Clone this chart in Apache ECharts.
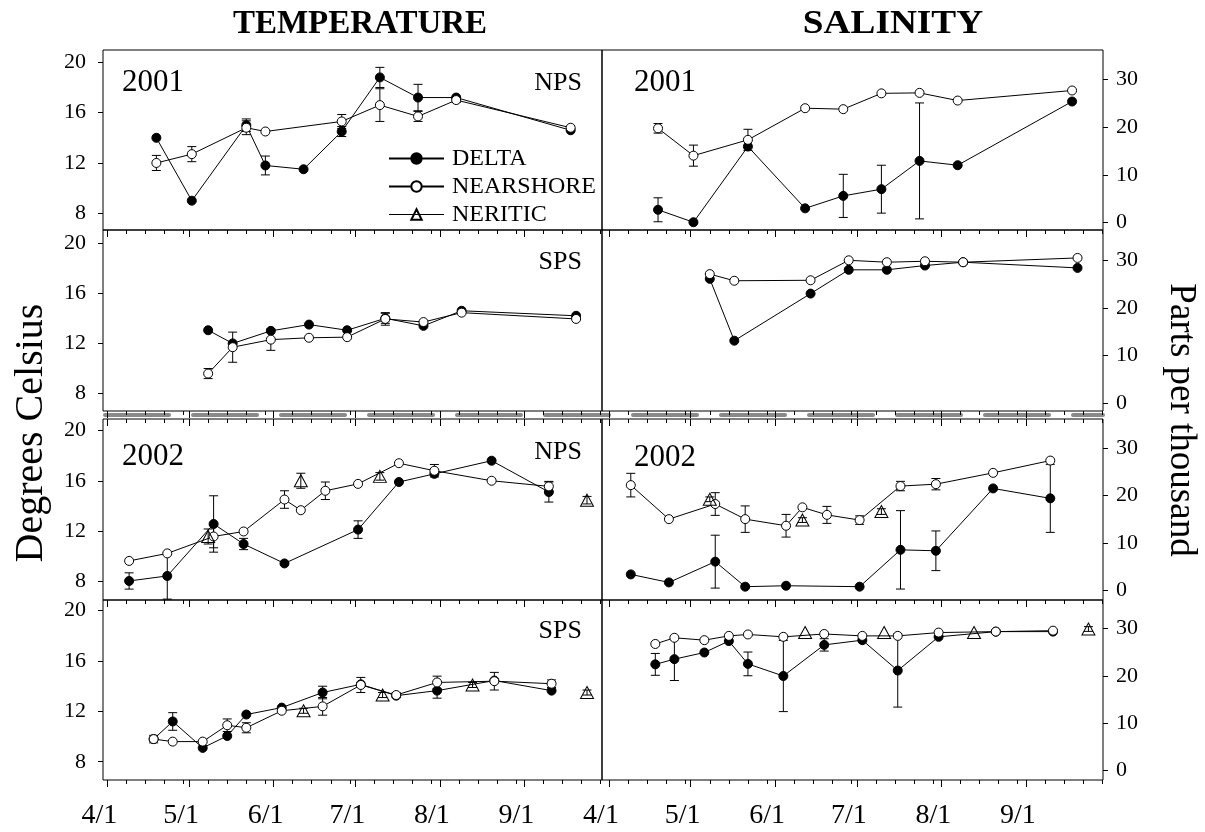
<!DOCTYPE html>
<html><head><meta charset="utf-8">
<script src="https://cdn.jsdelivr.net/npm/echarts@6/dist/echarts.min.js"></script>
<style>html,body{margin:0;padding:0;background:#fff}#c{width:1205px;height:832px}</style>
</head><body><div id="c"></div>
<script>
// ---------- tick labels ----------
const monthTickLabels = ['4/1','5/1','6/1','7/1','8/1','9/1'];
const weekTickDates = ['4/8','4/15','4/22','4/29','5/8','5/15','5/22','5/29','6/8','6/15','6/22','6/29',
  '7/8','7/15','7/22','7/29','8/8','8/15','8/22','8/29','9/8','9/15','9/22','9/29'];
const tempTicks = [8,12,16,20];
const salTicks = [0,10,20,30];
const seriesNames = ['DELTA','NEARSHORE','NERITIC'];

// ---------- 2001 NPS ----------
const t01nDeltaDates = ['4/19','5/2','5/22','5/29','6/12','6/26','7/10','7/24','8/7','9/18'];
const t01nDelta      = [14.0, 9.0, 15.0, 11.8, 11.5, 14.5, 18.8, 17.2, 17.2, 14.6];
const t01nDeltaErr   = [0, 0, 0.5, 0.75, 0, 0.4, 0.8, 1.05, 0.1, 0];
const t01nNearDates  = ['4/19','5/2','5/22','5/29','6/26','7/10','7/24','8/7','9/18'];
const t01nNear       = [12.0, 12.7, 14.8, 14.5, 15.3, 16.6, 15.7, 17.0, 14.8];
const t01nNearErr    = [0.6, 0.6, 0.55, 0, 0.55, 1.3, 0.4, 0.2, 0];

const s01nDates      = ['4/19','5/2','5/22','6/12','6/26','7/10','7/24','8/7','9/18'];
const s01nNear       = [19.7, 14.0, 17.3, 23.9, 23.7, 27.0, 27.1, 25.5, 27.6];
const s01nNearErr    = [1.0, 2.2, 2.2, 0, 0, 0, 0, 0, 0];
const s01nDelta      = [2.7, 0.1, 15.9, 3.0, 5.6, 7.0, 12.9, 12.0, 25.3];
const s01nDeltaErr   = [2.5, 0, 0, 0, 4.5, 5.0, 12.1, 0, 0];

// ---------- 2001 SPS ----------
const t01sDates      = ['5/8','5/17','5/31','6/14','6/28','7/12','7/26','8/9','9/20'];
const t01sDelta      = [13.05, 12.0, 13.0, 13.5, 13.05, 14.0, 13.4, 14.6, 14.2];
const t01sDeltaErr   = [0, 0, 0, 0, 0, 0.4, 0, 0, 0];
const t01sNear       = [9.6, 11.7, 12.3, 12.45, 12.5, 13.95, 13.7, 14.45, 13.95];
const t01sNearErr    = [0.4, 1.2, 0.85, 0, 0, 0.5, 0, 0, 0];

const s01sDates      = ['5/8','5/17','6/14','6/28','7/12','7/26','8/9','9/20'];
const s01sNear       = [27.1, 25.7, 25.8, 30.0, 29.6, 29.8, 29.6, 30.5];
const s01sDelta      = [26.1, 13.1, 23.0, 28.0, 28.0, 28.9, 29.6, 28.4];

// ---------- 2002 NPS ----------
const n02NearDates   = ['4/9','4/23','5/10','5/21','6/5','6/11','6/20','7/2','7/17','7/30','8/20','9/10'];
const n02DeltaDates  = ['4/9','4/23','5/10','5/21','6/5','7/2','7/17','7/30','8/20','9/10'];
const n02NerDates    = ['5/8','6/11','7/10','9/24'];
const t02nNear       = [9.6, 10.2, 11.55, 11.95, 14.5, 13.65, 15.2, 15.75, 17.4, 16.8, 16.0, 15.55];
const t02nNearErr    = [0, 0, 0.9, 0, 0.7, 0, 0.7, 0, 0, 0.5, 0, 0.4];
const t02nDelta      = [8.0, 8.4, 12.55, 10.95, 9.4, 12.1, 15.9, 16.55, 17.6, 15.1];
const t02nDeltaErr   = [0.65, 1.85, 2.25, 0.45, 0, 0.7, 0, 0, 0, 0.8];
const t02nNer        = [11.55, 16.0, 16.35, 14.45];
const t02nNerErr     = [0.6, 0.6, 0.3, 0.3];

const s02nNear       = [22.2, 15.0, 18.2, 15.0, 13.6, 17.5, 15.9, 14.8, 22.0, 22.4, 24.8, 27.4];
const s02nNearErr    = [2.5, 0, 2.4, 2.8, 2.4, 0, 1.8, 0.9, 1.0, 1.2, 0, 0];
const s02nDelta      = [3.3, 1.6, 6.0, 0.7, 0.9, 0.7, 8.5, 8.3, 21.5, 19.4];
const s02nDeltaErr   = [0, 0, 5.6, 0, 0, 0, 8.3, 4.2, 0, 7.2];
const s02nNerDates   = ['5/8','6/11','7/10'];
const s02nNer        = [19.2, 14.8, 16.6];
const s02nNerErr     = [0.5, 0.5, 0.6];

// ---------- 2002 SPS ----------
const s02Dates       = ['4/18','4/25','5/6','5/15','5/22','6/4','6/19','7/3','7/16','7/31','8/21','9/11'];
const s02NerDates    = ['6/12','7/11','8/13','9/24'];
const t02sDelta      = [9.8, 11.2, 9.1, 10.05, 11.75, 12.3, 13.5, 14.15, 13.25, 13.65, 14.45, 13.65];
const t02sDeltaErr   = [0, 0.7, 0, 0, 0, 0, 0.5, 0, 0, 0.6, 0, 0];
const t02sNear       = [9.8, 9.6, 9.6, 10.9, 10.7, 12.05, 12.4, 14.1, 13.3, 14.3, 14.4, 14.2];
const t02sNearErr    = [0.3, 0, 0, 0.5, 0.4, 0, 0.7, 0.6, 0.2, 0.5, 0.7, 0.3];
const t02sNer        = [12.05, 13.3, 14.1, 13.5];
const t02sNerErr     = [0.2, 0.2, 0.2, 0.2];

const s02sNear       = [26.7, 28.0, 27.5, 28.4, 28.7, 28.2, 28.8, 28.4, 28.4, 29.1, 29.3, 29.5];
const s02sDelta      = [22.4, 23.5, 24.9, 27.3, 22.5, 19.95, 26.5, 27.5, 21.1, 28.2, 29.3, 29.3];
const s02sDeltaErr   = [2.3, 4.5, 0, 0, 2.5, 7.5, 1.3, 0, 7.7, 0, 0, 0];
const s02sNer        = [29.1, 29.1, 29.1, 29.85];
const s02sNerErr     = [0, 0, 0, 0.5];

// ---------- helpers ----------
const MONTH_START = {4:0,5:30,6:61,7:91,8:122,9:153,10:183};
function dayOf(s){ const [m,d] = s.split('/').map(Number); return MONTH_START[m] + d - 1; }
const zeros = n => new Array(n).fill(0);

function grp(name, dates, vals, errs){ return {name, dates, vals, errs: errs || zeros(vals.length)}; }

const panels = [
  {kind:'t', groups:[grp('DELTA',t01nDeltaDates,t01nDelta,t01nDeltaErr), grp('NEARSHORE',t01nNearDates,t01nNear,t01nNearErr)]},
  {kind:'s', groups:[grp('DELTA',s01nDates,s01nDelta,s01nDeltaErr), grp('NEARSHORE',s01nDates,s01nNear,s01nNearErr)]},
  {kind:'t', groups:[grp('DELTA',t01sDates,t01sDelta,t01sDeltaErr), grp('NEARSHORE',t01sDates,t01sNear,t01sNearErr)]},
  {kind:'s', groups:[grp('DELTA',s01sDates,s01sDelta), grp('NEARSHORE',s01sDates,s01sNear)]},
  {kind:'t', groups:[grp('DELTA',n02DeltaDates,t02nDelta,t02nDeltaErr), grp('NEARSHORE',n02NearDates,t02nNear,t02nNearErr), grp('NERITIC',n02NerDates,t02nNer,t02nNerErr)]},
  {kind:'s', groups:[grp('DELTA',n02DeltaDates,s02nDelta,s02nDeltaErr), grp('NEARSHORE',n02NearDates,s02nNear,s02nNearErr), grp('NERITIC',s02nNerDates,s02nNer,s02nNerErr)]},
  {kind:'t', groups:[grp('DELTA',s02Dates,t02sDelta,t02sDeltaErr), grp('NEARSHORE',s02Dates,t02sNear,t02sNearErr), grp('NERITIC',s02NerDates,t02sNer,t02sNerErr)]},
  {kind:'s', groups:[grp('DELTA',s02Dates,s02sDelta,s02sDeltaErr), grp('NEARSHORE',s02Dates,s02sNear), grp('NERITIC',s02NerDates,s02sNer,s02sNerErr)]}
];

// ---------- layout ----------
const FONT = 'Liberation Serif';
const rowsTop = [50, 230, 419, 600], rowsH = [180, 181, 181, 180];
const colsLeft = [103, 602], colsW = [499, 501];
const xRange = [[-1.58, 181.5], [-2.57, 181.35]];
const tempRange = [[6.67,20.98],[6.62,21.03],[6.48,20.93],[6.55,20.85]];
const salRange = [[-1.52,36.05],[-1.68,36.37],[-2.12,36.2],[-1.96,35.96]];

const majorDays = monthTickLabels.map(dayOf);
const minorDays = weekTickDates.map(dayOf);
const labelByDay = {}; monthTickLabels.forEach(l => labelByDay[dayOf(l)] = l);
const noLine = {show:false, onZero:false};

const grids = [], xAxes = [], yAxes = [], series = [];
for (let r = 0; r < 4; r++) for (let c = 0; c < 2; c++) {
  const g = r*2 + c;
  grids.push({left: colsLeft[c], top: rowsTop[r], width: colsW[c], height: rowsH[r],
    show: true, borderColor: '#000', borderWidth: 1, backgroundColor: 'rgba(0,0,0,0)'});
  xAxes[g] = {type:'value', gridIndex:g, min:xRange[c][0], max:xRange[c][1], position:'bottom',
    axisLine:noLine, splitLine:{show:false},
    axisTick:{show:true, customValues: majorDays, length:7, lineStyle:{color:'#000', width:1}},
    axisLabel:{show: r === 3, customValues: majorDays, formatter: v => labelByDay[v] || '',
      fontFamily: FONT, fontSize: 28, color:'#000', margin: 22, padding:[0,16,0,0]}};
  const rng = c === 0 ? tempRange[r] : salRange[r];
  const ticks = c === 0 ? tempTicks : salTicks;
  yAxes[g] = {type:'value', gridIndex:g, min:rng[0], max:rng[1], position: c === 0 ? 'left' : 'right',
    axisLine:noLine, splitLine:{show:false},
    axisTick:{show:true, customValues: ticks, length:5, lineStyle:{color:'#000', width:1}},
    axisLabel:{show:true, customValues: ticks, fontFamily: FONT, fontSize: 22, color:'#000', margin: c === 0 ? 17 : 13}};
}
// minor (weekly) ticks
for (let r = 0; r < 4; r++) for (let c = 0; c < 2; c++) {
  const g = r*2 + c;
  xAxes.push({type:'value', gridIndex:g, min:xRange[c][0], max:xRange[c][1], position:'bottom',
    axisLine:noLine, splitLine:{show:false}, axisLabel:{show:false},
    axisTick:{show:true, customValues: minorDays, length:4, lineStyle:{color:'#000', width:1}}});
}
// inward top ticks on the 2002 NPS row
for (let c = 0; c < 2; c++) {
  const g = 4 + c;
  [[majorDays,7],[minorDays,4]].forEach(([vals,len]) => xAxes.push({type:'value', gridIndex:g,
    min:xRange[c][0], max:xRange[c][1], position:'top', axisLine:noLine, splitLine:{show:false},
    axisLabel:{show:false}, axisTick:{show:true, inside:true, customValues: vals, length:len, lineStyle:{color:'#000', width:1}}}));
}
// grey dashed break line between years
for (let c = 0; c < 2; c++) {
  const g = 2 + c;
  xAxes.push({type:'value', gridIndex:g, min:xRange[c][0], max:xRange[c][1], position:'bottom', offset:4,
    axisTick:{show:false}, axisLabel:{show:false}, splitLine:{show:false},
    axisLine:{show:true, onZero:false, lineStyle:{color:'#8a8a8a', width:4, type:[64,24], dashOffset: c === 0 ? -2 : 57, cap:'round'}}});
}

function errRender(params, api){
  const x = api.value(0), y = api.value(1), e = api.value(2);
  const p1 = api.coord([x, y + e]), p2 = api.coord([x, y - e]);
  const w = 4.5, st = {stroke:'#000', lineWidth:1};
  return {type:'group', children:[
    {type:'line', shape:{x1:p1[0], y1:p1[1], x2:p2[0], y2:p2[1]}, style:st},
    {type:'line', shape:{x1:p1[0]-w, y1:p1[1], x2:p1[0]+w, y2:p1[1]}, style:st},
    {type:'line', shape:{x1:p2[0]-w, y1:p2[1], x2:p2[0]+w, y2:p2[1]}, style:st}
  ]};
}

const styleOf = {
  DELTA:     {symbol:'circle', symbolSize:9, itemStyle:{color:'#000', borderColor:'#000', borderWidth:1}, lineStyle:{color:'#000', width:1}, z:3},
  NEARSHORE: {symbol:'circle', symbolSize:9, itemStyle:{color:'#fff', borderColor:'#000', borderWidth:1}, lineStyle:{color:'#000', width:1}, z:4},
  NERITIC:   {symbol:'triangle', symbolSize:[13,12], itemStyle:{color:'rgba(0,0,0,0)', borderColor:'#000', borderWidth:1}, lineStyle:{color:'#000', width:1, opacity:0}, z:5}
};

panels.forEach((p, g) => {
  const errData = [];
  p.groups.forEach(gr => {
    const pts = gr.dates.map((d, i) => [dayOf(d), gr.vals[i]]);
    gr.dates.forEach((d, i) => { if (gr.errs[i] > 0) errData.push([dayOf(d), gr.vals[i], gr.errs[i]]); });
    const st = styleOf[gr.name];
    series.push(Object.assign({type:'line', name: gr.name, xAxisIndex:g, yAxisIndex:g, data: pts,
      showAllSymbol:true, animation:false, emphasis:{disabled:true}, silent:true}, st));
  });
  series.push({type:'custom', xAxisIndex:g, yAxisIndex:g, data: errData, renderItem: errRender,
    encode:{x:0, y:1}, clip:true, z:2, silent:true, animation:false});
});

const txt = (text, x, y, size, opts) => Object.assign({type:'text', x, y, z:10,
  style:Object.assign({text, fontFamily: FONT, fontSize: size, fill:'#000', align:'left', verticalAlign:'middle'}, (opts && opts.style) || {})},
  opts ? {rotation: opts.rotation || 0, scaleX: opts.scaleX || 1} : {});

const graphic = [
  txt('TEMPERATURE', 360, 24, 33, {style:{align:'center', fontWeight:'bold'}}),
  txt('SALINITY', 893, 24, 33, {scaleX:1.13, style:{align:'center', fontWeight:'bold'}}),
  txt('Degrees Celsius', 31, 433, 40, {rotation: Math.PI/2, style:{align:'center'}}),
  txt('Parts per thousand', 1181, 420, 37, {rotation: -Math.PI/2, style:{align:'center'}}),
  txt('2001', 122, 83, 31),
  txt('2001', 634, 83, 31),
  txt('2002', 122, 457, 31),
  txt('2002', 634, 458, 31),
  txt('NPS', 582, 83, 26, {style:{align:'right'}}),
  txt('SPS', 582, 262, 26, {style:{align:'right'}}),
  txt('NPS', 582, 452, 26, {style:{align:'right'}}),
  txt('SPS', 582, 631, 26, {style:{align:'right'}})
];

const chart = echarts.init(document.getElementById('c'), null, {renderer:'canvas'});
chart.setOption({
  backgroundColor:'#fff',
  animation:false,
  grid: grids, xAxis: xAxes, yAxis: yAxes, series,
  legend:{show:true, orient:'vertical', left:383, top:141.5, itemWidth:55, itemHeight:13, itemGap:4,
    selectedMode:false,
    textStyle:{fontFamily:FONT, fontSize:24, color:'#000', lineHeight:24, padding:[0,0,0,3]},
    data:[{name:'DELTA'}, {name:'NEARSHORE'},
      {name:'NERITIC', lineStyle:{color:'#000', width:1, opacity:1}}]},
  graphic
});
</script>
</body></html>
